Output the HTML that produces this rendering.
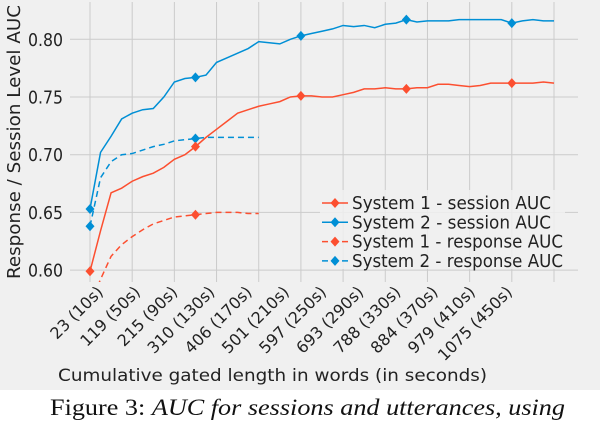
<!DOCTYPE html>
<html><head><meta charset="utf-8"><style>
body{margin:0;background:#fff;}
svg{display:block;font-family:"DejaVu Sans","Liberation Sans",sans-serif;}
</style></head><body>
<svg id="chart" width="600" height="424" xmlns="http://www.w3.org/2000/svg">
<rect x="0" y="0" width="600" height="390" fill="#f0f0f0"/>
<defs><clipPath id="pc"><rect x="70" y="2" width="508" height="280"/></clipPath></defs>
<g id="grid"></g>
<g id="series" clip-path="url(#pc)"></g>
<g id="axes"></g>
<text x="0" y="0" transform="translate(20,142) rotate(-90)" text-anchor="middle" font-size="18" textLength="274" lengthAdjust="spacingAndGlyphs" fill="#222">Response / Session Level AUC</text>
<text x="58" y="381" font-size="17" textLength="429" lengthAdjust="spacingAndGlyphs" fill="#222">Cumulative gated length in words (in seconds)</text>
<text x="50" y="415" font-size="23" textLength="515" lengthAdjust="spacingAndGlyphs" font-family="'Liberation Serif',serif" fill="#111">Figure 3: <tspan font-style="italic">AUC for sessions and utterances, using</tspan></text>
<g id="legend"></g>
</svg>
<script>
const tickLabels=["23 (10s)","119 (50s)","215 (90s)","310 (130s)","406 (170s)","501 (210s)","597 (250s)","693 (290s)","788 (330s)","884 (370s)","979 (410s)","1075 (450s)"];
const yTicks=[0.60,0.65,0.70,0.75,0.80];
const s1Session=[0.599,0.634,0.667,0.671,0.677,0.681,0.684,0.689,0.696,0.700,0.707,0.715,0.722,0.729,0.736,0.739,0.742,0.744,0.746,0.750,0.751,0.751,0.750,0.750,0.752,0.754,0.757,0.757,0.758,0.757,0.757,0.758,0.758,0.761,0.761,0.760,0.759,0.760,0.762,0.762,0.762,0.762,0.762,0.763,0.762];
const s2Session=[0.653,0.702,0.716,0.731,0.736,0.739,0.740,0.750,0.763,0.766,0.767,0.769,0.780,0.784,0.788,0.792,0.798,0.797,0.796,0.800,0.803,0.805,0.807,0.809,0.812,0.811,0.812,0.810,0.813,0.814,0.817,0.815,0.816,0.816,0.816,0.817,0.817,0.817,0.817,0.817,0.814,0.816,0.817,0.816,0.816];
const s1Response=[0.570,0.592,0.612,0.622,0.629,0.635,0.640,0.643,0.646,0.647,0.648,0.649,0.650,0.650,0.650,0.649,0.649];
const s2Response=[0.638,0.680,0.694,0.700,0.701,0.704,0.707,0.709,0.712,0.713,0.714,0.715,0.715,0.715,0.715,0.715,0.715];
const RED="#fc4f30",BLUE="#008fd5",NS="http://www.w3.org/2000/svg";
const xS=i=>90+i*(464/44);
const yS=v=>39.3+(0.80-v)*1154;
function mk(tag,attrs,parent){const e=document.createElementNS(NS,tag);for(const k in attrs)e.setAttribute(k,attrs[k]);parent.appendChild(e);return e;}
const grid=document.getElementById('grid'),axes=document.getElementById('axes'),ser=document.getElementById('series'),leg=document.getElementById('legend');
yTicks.forEach(v=>{
 const l=mk('line',{x1:70,x2:578,y1:yS(v),y2:yS(v),stroke:'#cbcbcb','stroke-width':1},grid);
 
 
 const t=mk('text',{x:28,y:yS(v)+6.5,'font-size':18,textLength:35,lengthAdjust:'spacingAndGlyphs',fill:'#222'},axes);
 t.textContent=v.toFixed(2);
 
 
});
tickLabels.forEach((s,i)=>{
 const gx=90+i*(464/11);
 const l=mk('line',{x1:gx,x2:gx,y1:2,y2:282,stroke:'#cbcbcb','stroke-width':1},grid);
 
 
 const ex=104+i*37.2;
 const t=mk('text',{x:0,y:0,transform:`translate(${ex},${293}) rotate(-45)`,'text-anchor':'end','font-size':16,fill:'#222'},axes);
 t.textContent=s;
 
 
});
function diamond(cx,cy,c,p){return mk('polygon',{points:`${cx},${cy-5} ${cx+4.5},${cy} ${cx},${cy+5} ${cx-4.5},${cy}`,fill:c},p);}
function series(vals,color,dash,name){
 const g=mk('g',{},ser);
 
 
 const p=mk('polyline',{points:vals.map((v,i)=>xS(i)+','+yS(v)).join(' '),fill:'none',stroke:color,'stroke-width':1.5},g);
 if(dash)p.setAttribute('stroke-dasharray','6,4');
 vals.forEach((v,i)=>{if(i%10===0){const d=diamond(xS(i),yS(v),color,g);
  
  }});
}
series(s1Response,RED,true,'system1-response-line');
series(s2Response,BLUE,true,'system2-response-line');
series(s1Session,RED,false,'system1-session-line');
series(s2Session,BLUE,false,'system2-session-line');
const lb=mk('rect',{x:320,y:190,width:245,height:79,fill:'#f0f0f0',opacity:0.85},leg);


[["System 1 - session AUC",RED,false,199],["System 2 - session AUC",BLUE,false,199],["System 1 - response AUC",RED,true,211],["System 2 - response AUC",BLUE,true,211]].forEach((e,i)=>{
 const y=200+i*19.3;
 const g=mk('g',{},leg);
 
 
 const l=mk('line',{x1:322,x2:348,y1:y+3,y2:y+3,stroke:e[1],'stroke-width':1.5},g);
 if(e[2])l.setAttribute('stroke-dasharray','6,4');
 diamond(335,y+3,e[1],g);
 const t=mk('text',{x:352,y:y+9,'font-size':17.5,textLength:e[3],lengthAdjust:'spacingAndGlyphs',fill:'#222'},g);
 t.textContent=e[0];
});
</script>
</body></html>
